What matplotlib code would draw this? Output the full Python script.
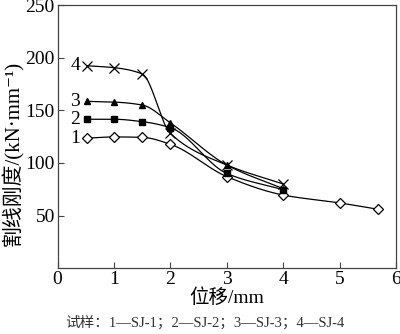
import numpy as np
import matplotlib
matplotlib.use('Agg')
import matplotlib.pyplot as plt

plt.rcParams['font.family'] = ['Liberation Serif', 'Noto Sans CJK SC', 'DejaVu Serif']

# secant stiffness vs displacement, specimens SJ-1 .. SJ-4
disp_1 = [0.52, 1.0, 1.5, 2.0, 3.0, 4.0, 5.0, 5.68]
stiff_1 = [123.5, 124.7, 124.3, 117.7, 87.0, 69.5, 62.0, 56.0]
disp_2 = [0.52, 1.0, 1.5, 2.0, 3.0, 4.0]
stiff_2 = [141.5, 141.5, 139.2, 133.5, 90.0, 74.5]
disp_3 = [0.52, 1.0, 1.5, 2.0, 3.0, 4.0]
stiff_3 = [158.5, 157.8, 155.0, 138.0, 98.0, 75.5]
disp_4 = [0.52, 1.0, 1.5, 2.0, 3.0, 4.0]
stiff_4 = [192.3, 190.5, 184.5, 128.0, 98.0, 80.0]

labels = ['1', '2', '3', '4']
markers = ['D', 's', '^', 'x']


def monotone_curve(x, y, n=40):
    # Fritsch-Carlson monotone cubic through the measured points
    x = np.asarray(x, float)
    y = np.asarray(y, float)
    h = np.diff(x)
    d = np.diff(y) / h
    m = np.zeros_like(y)
    m[0], m[-1] = d[0], d[-1]
    for i in range(1, len(x) - 1):
        if d[i - 1] * d[i] <= 0:
            m[i] = 0
        else:
            w1 = 2 * h[i] + h[i - 1]
            w2 = h[i] + 2 * h[i - 1]
            m[i] = (w1 + w2) / (w1 / d[i - 1] + w2 / d[i])
    xs, ys = [], []
    for i in range(len(x) - 1):
        t = np.linspace(0, 1, n)
        h00 = 2 * t**3 - 3 * t**2 + 1
        h10 = t**3 - 2 * t**2 + t
        h01 = -2 * t**3 + 3 * t**2
        h11 = t**3 - t**2
        xs.append(x[i] + t * h[i])
        ys.append(h00 * y[i] + h10 * h[i] * m[i] + h01 * y[i + 1] + h11 * h[i] * m[i + 1])
    return np.concatenate(xs), np.concatenate(ys)


fig = plt.figure(figsize=(4.0, 3.34), dpi=100)
ax = fig.add_axes([0.144, 0.197, 0.846, 0.788])

series = [(disp_1, stiff_1), (disp_2, stiff_2), (disp_3, stiff_3), (disp_4, stiff_4)]
for (xd, yd), lab, mk in zip(series, labels, markers):
    cx, cy = monotone_curve(xd, yd)
    ax.plot(cx, cy, color='black', linewidth=0.9)
    if mk == 'D':
        ax.plot(xd, yd, linestyle='none', marker='D', markersize=5,
                markerfacecolor='white', markeredgecolor='black', markeredgewidth=0.9)
    elif mk == 'x':
        ax.plot(xd, yd, linestyle='none', marker='x', markersize=7,
                color='black', markeredgewidth=0.9)
    else:
        ax.plot(xd, yd, linestyle='none', marker=mk, markersize=4.5, color='black')
    ax.text(xd[0] - 0.12, yd[0], lab, fontsize=14, ha='right', va='center')

ax.set_xlim(0, 6)
ax.set_ylim(0, 250)
ax.set_xticks([0, 1, 2, 3, 4, 5, 6])
ax.set_yticks([50, 100, 150, 200, 250])
ax.tick_params(direction='in', length=4, width=0.8, labelsize=14, color='#444444', pad=2)
for sp in ax.spines.values():
    sp.set_color('#444444')
    sp.set_linewidth(0.9)

ax.set_xlabel('位移/mm', fontsize=14, labelpad=0)
# y label placed in figure coords so it sits a little below the axes centre
fig.text(0.032, 0.54, '割线刚度/(kN·mm⁻¹)', fontsize=15, rotation=90,
         ha='center', va='center')
fig.text(0.512, 0.035, '试样：1—SJ-1；2—SJ-2；3—SJ-3；4—SJ-4',
         fontsize=10.5, ha='center', va='center', color='#333333')

fig.savefig('out.png', dpi=100)
